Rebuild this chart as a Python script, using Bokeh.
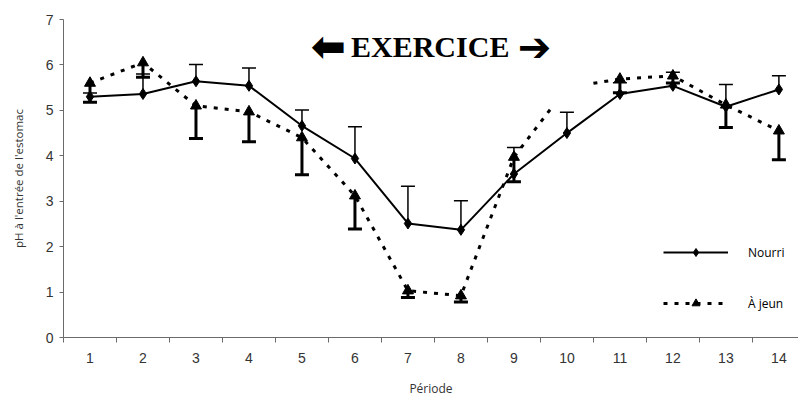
import numpy as np
from bokeh.plotting import figure
from bokeh.models import (ColumnDataSource, Range1d, FixedTicker, Whisker, TeeHead,
                          Legend, LegendItem, Label)
from bokeh.embed import file_html
from bokeh.resources import INLINE

# ---- data ----
periods = list(range(1, 15))
tick_labels = [str(i) for i in periods]
nourri = [5.30, 5.36, 5.64, 5.54, 4.66, 3.94, 2.51, 2.37, 3.60, 4.50, 5.36, 5.54, 5.08, 5.46]
nourri_err = [0.08, 0.44, 0.37, 0.39, 0.35, 0.70, 0.82, 0.64, 0.58, 0.46, 0.25, 0.30, 0.49, 0.30]
ajeun = [5.60, 6.05, 5.10, 4.97, 4.40, 3.12, 1.03, 0.92, 3.97, 5.50, 5.69, 5.76, 5.12, 4.55]
ajeun_err = [0.42, 0.32, 0.72, 0.66, 0.82, 0.73, 0.15, 0.14, 0.54, np.nan, 0.30, 0.16, 0.50, 0.64]
ajeun_hidden = (9.72, 10.5)   # span of the dashed curve not drawn in the original

AXIS = "#6b6b6b"
TXT = "#333333"

p = figure(width=798, height=399, output_backend="svg", toolbar_location=None,
           x_range=Range1d(0.5, 14.37), y_range=Range1d(0, 7),
           min_border_left=63, min_border_right=0, min_border_top=19, min_border_bottom=62)
p.grid.visible = False
p.outline_line_color = None
p.background_fill_color = "white"

# x axis
p.xaxis.ticker = FixedTicker(ticks=periods, minor_ticks=[i + 0.5 for i in range(0, 15)])
p.xaxis.major_label_overrides = {i: t for i, t in zip(periods, tick_labels)}
p.xaxis.major_tick_line_color = None
p.xaxis.major_tick_out = 5
p.xaxis.major_tick_in = 0
p.xaxis.minor_tick_out = 5
p.xaxis.minor_tick_in = 0
p.xaxis.minor_tick_line_color = AXIS
p.xaxis.axis_line_color = AXIS
p.xaxis.major_label_standoff = 10
p.xaxis.major_label_text_font = "Liberation Sans"
p.xaxis.major_label_text_font_size = "14px"
p.xaxis.major_label_text_color = TXT
p.xaxis.axis_label = "Période"
p.xaxis.axis_label_text_font = "Open Sans"
p.xaxis.axis_label_text_font_style = "normal"
p.xaxis.axis_label_text_font_size = "12px"
p.xaxis.axis_label_text_color = TXT
p.xaxis.axis_label_standoff = 14

# y axis
p.yaxis.ticker = FixedTicker(ticks=list(range(0, 8)), minor_ticks=[])
p.yaxis.major_tick_out = 4
p.yaxis.major_tick_in = 0
p.yaxis.major_tick_line_color = AXIS
p.yaxis.axis_line_color = AXIS
p.yaxis.major_label_standoff = 6
p.yaxis.major_label_text_font = "Liberation Sans"
p.yaxis.major_label_text_font_size = "14px"
p.yaxis.major_label_text_color = TXT
p.yaxis.axis_label = "pH à l'entrée de l'estomac"
p.yaxis.axis_label_text_font = "Open Sans"
p.yaxis.axis_label_text_font_style = "normal"
p.yaxis.axis_label_text_font_size = "11.5px"
p.yaxis.axis_label_text_color = TXT
p.yaxis.axis_label_standoff = 17

# ---- Nourri ----
src_n = ColumnDataSource(dict(x=periods, y=nourri,
                              up=[v + e for v, e in zip(nourri, nourri_err)]))
p.add_layout(Whisker(base="x", lower="y", upper="up", source=src_n, dimension="height",
                     line_color="black", line_width=1.5,
                     upper_head=TeeHead(size=14, line_color="black", line_width=1.5),
                     lower_head=None))
ln_n = p.line("x", "y", source=src_n, line_color="black", line_width=2)
mk_n = p.scatter("x", "y", source=src_n, marker="diamond", size=11,
                 fill_color="black", line_color="black")

# ---- À jeun ----
ax = np.array(periods, dtype=float)
ay = np.array(ajeun, dtype=float)
h0, h1 = ajeun_hidden
line_x = list(ax[ax < h0]) + [h0, np.nan, h1] + list(ax[ax > h1])
line_y = list(ay[ax < h0]) + [float(np.interp(h0, ax, ay)), np.nan,
                              float(np.interp(h1, ax, ay))] + list(ay[ax > h1])
ln_a = p.line(line_x, line_y, line_color="black", line_width=3, line_dash="4 7")

err = np.array(ajeun_err, dtype=float)
shown = ~np.isnan(err)
src_a = ColumnDataSource(dict(x=ax[shown], y=ay[shown], lo=(ay - err)[shown]))
p.add_layout(Whisker(base="x", lower="lo", upper="y", source=src_a, dimension="height",
                     line_color="black", line_width=3,
                     lower_head=TeeHead(size=14, line_color="black", line_width=3),
                     upper_head=None))
mk_a = p.scatter("x", "y", source=src_a, marker="triangle", size=11,
                 fill_color="black", line_color="black")

# ---- title ----
p.add_layout(Label(x=5.50, y=6.40, text="⬅", text_align="center",
                   text_baseline="middle", text_font="DejaVu Sans",
                   text_font_style="bold", text_font_size="42px", text_color="black"))
p.add_layout(Label(x=7.42, y=6.40, text="EXERCICE", text_align="center",
                   text_baseline="middle", text_font="Liberation Serif",
                   text_font_style="bold", text_font_size="30px", text_color="black"))
p.add_layout(Label(x=9.39, y=6.40, text="➔", text_align="center",
                   text_baseline="middle", text_font="DejaVu Sans",
                   text_font_style="bold", text_font_size="40px", text_color="black"))

# ---- legend ----
legend = Legend(items=[LegendItem(label="Nourri", renderers=[ln_n, mk_n]),
                       LegendItem(label="À jeun", renderers=[ln_a, mk_a])],
                location=(600, 24), orientation="vertical",
                glyph_width=65, glyph_height=20, label_height=20, spacing=31,
                label_standoff=20, padding=0, margin=0,
                border_line_color=None, background_fill_alpha=0,
                label_text_font="Open Sans", label_text_font_size="12px",
                label_text_color="black")
p.add_layout(legend)

open("out.html", "w").write(file_html(p, INLINE))
